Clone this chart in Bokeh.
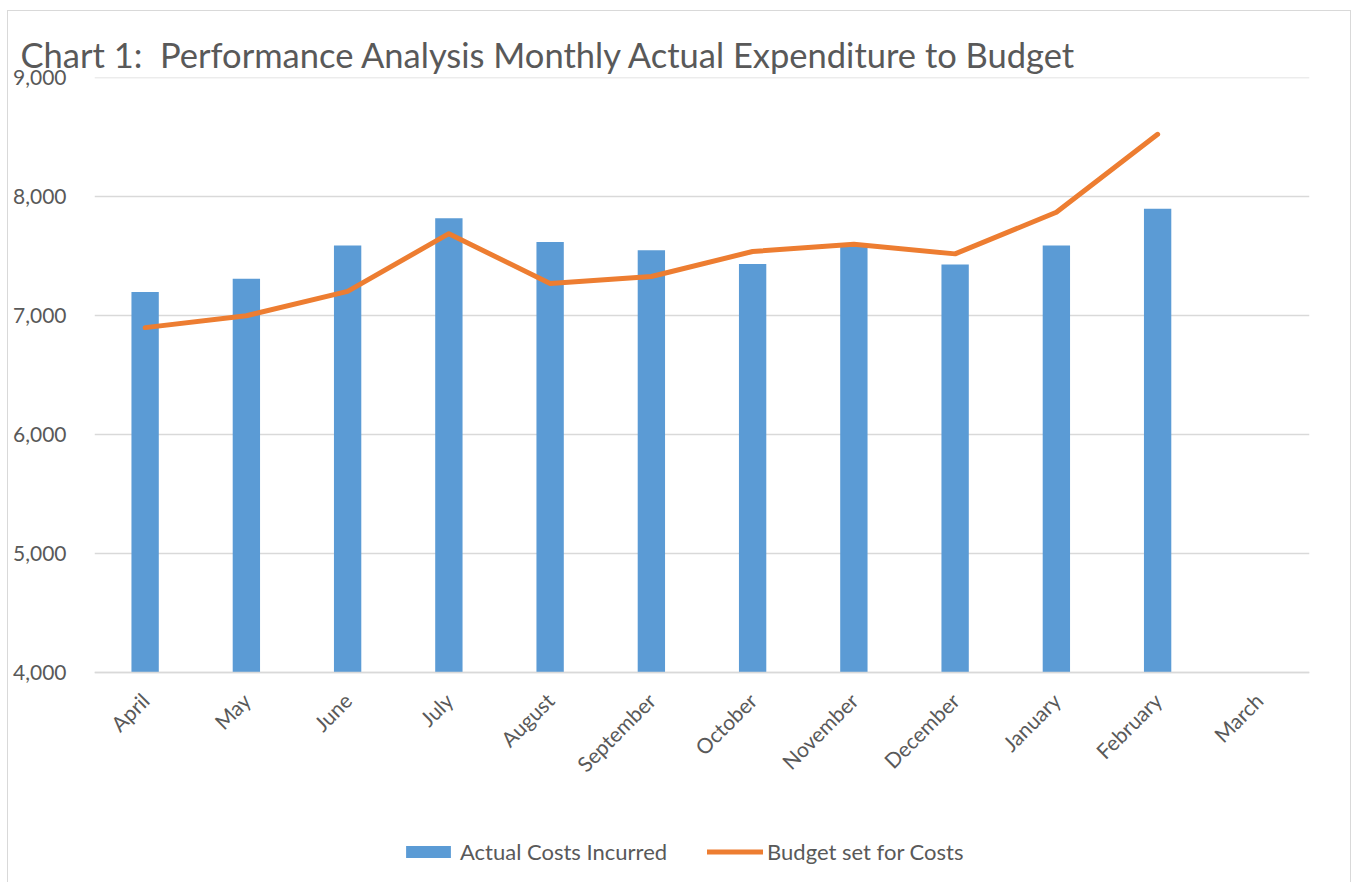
from bokeh.plotting import figure
from bokeh.models import (Range1d, FactorRange, FixedTicker, NumeralTickFormatter,
                          Legend, LegendItem)
from bokeh.embed import file_html
from bokeh.resources import INLINE
import math

months = ["April", "May", "June", "July", "August", "September", "October",
          "November", "December", "January", "February", "March"]
actual_costs = [7200, 7310, 7590, 7820, 7620, 7550, 7435, 7580, 7430, 7590, 7900]
budget_costs = [6900, 7000, 7205, 7690, 7270, 7330, 7540, 7600, 7520, 7870, 8525]
y_ticks = [4000, 5000, 6000, 7000, 8000, 9000]
axis_base = 4000

BLUE = "#5B9BD5"
ORANGE = "#ED7D31"
GREY_TXT = "#595959"
GRID = "#D9D9D9"
FONT = "Lato"

# frame spans the plot area plus the space below it (labels + legend);
# the category axis is pinned at the 4,000 baseline
p = figure(width=1344, height=872, output_backend="svg", toolbar_location=None,
           x_range=FactorRange(factors=months, range_padding=0),
           y_range=Range1d(2310, 9003),
           min_border_left=86, min_border_right=43, min_border_top=66,
           min_border_bottom=10)
p.styles = {"border-top": "1px solid #D9D9D9", "border-left": "1px solid #D9D9D9",
            "border-right": "1px solid #D9D9D9",
            "margin-left": "7px", "margin-top": "10px"}
p.outline_line_color = None
p.background_fill_color = "white"
p.border_fill_color = "white"

p.title.text = "Chart 1:\u00a0 Performance Analysis Monthly Actual Expenditure to Budget"
p.title.text_font = FONT
p.title.text_font_size = "34.5px"
p.title.text_font_style = "normal"
p.title.text_color = GREY_TXT
p.title.align = "left"
p.title.offset = -74
p.title.standoff = 6

bars = p.vbar(x=months[:len(actual_costs)], top=actual_costs, bottom=axis_base,
              width=0.27, color=BLUE, line_color=None)
line = p.line(x=months[:len(budget_costs)], y=budget_costs, line_color=ORANGE,
              line_width=5, line_cap="round", line_join="round")

p.xgrid.grid_line_color = None
p.ygrid.grid_line_color = GRID
p.ygrid.grid_line_width = 1.5

p.yaxis.ticker = FixedTicker(ticks=y_ticks)
p.yaxis.formatter = NumeralTickFormatter(format="0,0")
p.yaxis.axis_line_color = None
p.yaxis.major_tick_line_color = None
p.yaxis.minor_tick_line_color = None
p.yaxis.major_tick_out = 0
p.yaxis.major_tick_in = 0
p.yaxis.minor_tick_out = 0
p.yaxis.major_label_text_font = FONT
p.yaxis.major_label_text_font_size = "21px"
p.yaxis.major_label_text_color = GREY_TXT
p.yaxis.major_label_standoff = 28

p.xaxis.fixed_location = axis_base
p.xaxis.axis_line_color = GRID
p.xaxis.axis_line_width = 1.5
p.xaxis.major_tick_line_color = None
p.xaxis.minor_tick_line_color = None
p.xaxis.major_label_text_font = FONT
p.xaxis.major_label_text_font_size = "21px"
p.xaxis.major_label_text_color = GREY_TXT
p.xaxis.major_label_orientation = math.pi / 4
p.xaxis.major_label_standoff = 18

legend = Legend(items=[LegendItem(label="Actual Costs Incurred", renderers=[bars]),
                       LegendItem(label="Budget set for Costs", renderers=[line])],
                orientation="horizontal", location=(306, 8),
                glyph_width=56, glyph_height=15, spacing=40, padding=5, margin=0,
                label_text_font=FONT, label_text_font_size="22px",
                label_text_color=GREY_TXT, label_standoff=4,
                border_line_color=None, background_fill_alpha=0)
p.add_layout(legend, "center")

open("out.html", "w").write(file_html(p, INLINE))
